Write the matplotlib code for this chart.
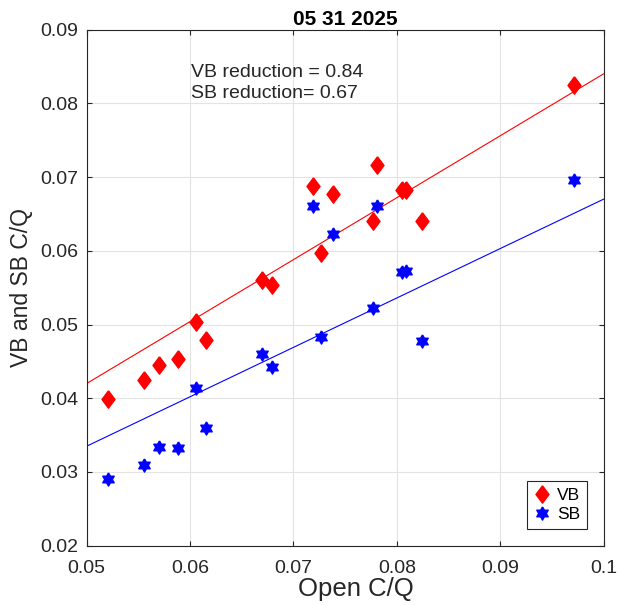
import matplotlib
matplotlib.use("Agg")
import matplotlib.pyplot as plt
import numpy as np

plt.rcParams['font.family'] = ['Liberation Sans', 'DejaVu Sans']

# Open C/Q and the two baffle series
open_cq = [0.0521, 0.0555, 0.0570, 0.0588, 0.0606, 0.0615, 0.0670, 0.0679,
           0.0719, 0.0727, 0.0738, 0.0777, 0.0781, 0.0805, 0.0809, 0.0824, 0.0971]
vb_cq = [0.0399, 0.0425, 0.0445, 0.0453, 0.0504, 0.0479, 0.0560, 0.0553,
         0.0688, 0.0597, 0.0677, 0.0641, 0.0717, 0.0682, 0.0683, 0.0640, 0.0825]
sb_cq = [0.0290, 0.0310, 0.0334, 0.0333, 0.0414, 0.0359, 0.0460, 0.0442,
         0.0661, 0.0483, 0.0623, 0.0522, 0.0661, 0.0571, 0.0572, 0.0477, 0.0696]

vb_reduction = 0.84
sb_reduction = 0.67

xticks = [0.05, 0.06, 0.07, 0.08, 0.09, 0.1]
yticks = [0.02, 0.03, 0.04, 0.05, 0.06, 0.07, 0.08, 0.09]

# MATLAB-ish markers
diamond = [(0, 1), (0.75, 0), (0, -1), (-0.75, 0), (0, 1)]
hexagram = []
for i in range(12):
    ang = np.pi / 2 + i * np.pi / 6
    r = 1.0 if i % 2 == 0 else 1.0 / np.sqrt(3)
    hexagram.append((r * np.cos(ang), r * np.sin(ang)))
hexagram.append(hexagram[0])

fig = plt.figure(figsize=(6.19, 6.05), dpi=100)
ax = fig.add_axes([0.14, 0.098, 0.835, 0.853])

axcol = '#262626'

ax.plot(open_cq, vb_cq, linestyle='none', marker=diamond, markersize=12.5,
        color='red', label='VB', zorder=3)
ax.plot(open_cq, sb_cq, linestyle='none', marker=hexagram, markersize=9.5,
        color='blue', label='SB', zorder=3)

xl = np.array([0.05, 0.1])
ax.plot(xl, vb_reduction * xl, color='red', linewidth=0.8, zorder=2)
ax.plot(xl, sb_reduction * xl, color='blue', linewidth=0.8, zorder=2)

ax.text(0.0601, 0.0836, 'VB reduction = %.2f' % vb_reduction, fontsize=14,
        va='baseline', color=axcol)
ax.text(0.0601, 0.08075, 'SB reduction= %.2f' % sb_reduction, fontsize=14,
        va='baseline', color=axcol)

ax.set_xlim(0.05, 0.1)
ax.set_ylim(0.02, 0.09)
ax.set_xticks(xticks)
ax.set_xticklabels(['%g' % t for t in xticks])
ax.set_yticks(yticks)
ax.set_yticklabels(['%g' % t for t in yticks])
ax.grid(True, color='#e3e3e3', linewidth=0.8)
ax.set_axisbelow(True)
ax.tick_params(direction='in', top=True, right=True, labelsize=14,
               color=axcol, labelcolor=axcol, length=3.5, pad=6)
ax.tick_params(axis='x', pad=10)
for s in ax.spines.values():
    s.set_color(axcol)
    s.set_linewidth(0.8)

ax.set_xlabel('Open C/Q', fontsize=18.5, color=axcol, labelpad=0, x=0.521)
ax.set_ylabel('VB and SB C/Q', fontsize=16.5, color=axcol, labelpad=5)
ax.set_title('05 31 2025', fontsize=15, fontweight='bold', color='black', pad=3.5)

leg = ax.legend(loc='lower right', fontsize=12.5, frameon=True, fancybox=False,
                framealpha=1, edgecolor=axcol, handletextpad=0.35,
                handlelength=1.0, borderpad=0.4, labelspacing=0.25,
                borderaxespad=0, bbox_to_anchor=(0.968, 0.032))
leg.get_frame().set_linewidth(0.8)

fig.savefig('out.png', dpi=100)
